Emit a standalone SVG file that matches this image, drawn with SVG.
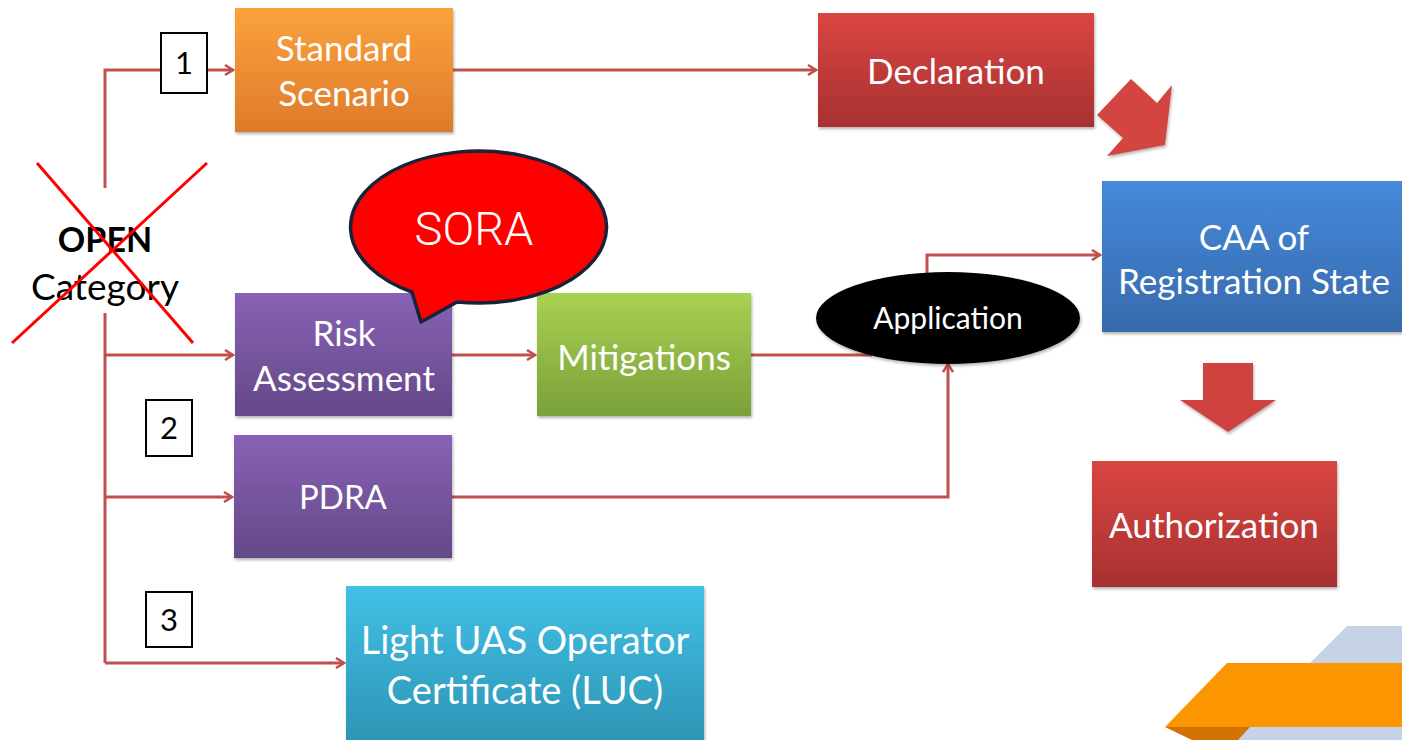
<svg xmlns="http://www.w3.org/2000/svg" width="1402" height="740" viewBox="0 0 1402 740">
<style>
.t{font-family:Lato,"Open Sans","DejaVu Sans",sans-serif;fill:#ffffff;text-anchor:middle}
.k{font-family:Lato,"Open Sans","DejaVu Sans",sans-serif;fill:#000000;text-anchor:middle}
.c{fill:none;stroke:#c0504d;stroke-width:3}
.num{fill:#ffffff;stroke:#000000;stroke-width:2}
.box{filter:url(#sh)}
</style>
<defs>
<linearGradient id="gOr" x1="0" y1="0" x2="0" y2="1"><stop offset="0" stop-color="#fba23c"/><stop offset="1" stop-color="#de7a2a"/></linearGradient>
<linearGradient id="gRd" x1="0" y1="0" x2="0" y2="1"><stop offset="0" stop-color="#da4542"/><stop offset="1" stop-color="#a73131"/></linearGradient>
<linearGradient id="gPu" x1="0" y1="0" x2="0" y2="1"><stop offset="0" stop-color="#8862b6"/><stop offset="1" stop-color="#644887"/></linearGradient>
<linearGradient id="gGr" x1="0" y1="0" x2="0" y2="1"><stop offset="0" stop-color="#a9d151"/><stop offset="1" stop-color="#7aa03a"/></linearGradient>
<linearGradient id="gBl" x1="0" y1="0" x2="0" y2="1"><stop offset="0" stop-color="#4589da"/><stop offset="1" stop-color="#376aad"/></linearGradient>
<linearGradient id="gCy" x1="0" y1="0" x2="0" y2="1"><stop offset="0" stop-color="#40c1e6"/><stop offset="1" stop-color="#2e93b3"/></linearGradient>
<filter id="sh" x="-5%" y="-5%" width="115%" height="115%"><feDropShadow dx="1" dy="2" stdDeviation="1.5" flood-color="#000" flood-opacity="0.3"/></filter>
<marker id="ah" viewBox="0 0 12 12" refX="10" refY="6" markerWidth="12" markerHeight="12" markerUnits="userSpaceOnUse" orient="auto"><path d="M2,1 L10,6 L2,11" fill="none" stroke="#c0504d" stroke-width="2.5"/></marker>
</defs>

<!-- background decoration -->
<g id="deco">
<polygon points="1347,626 1402,626 1402,740 1233,740" fill="#c6d3e6"/>
<polygon points="1227,663 1402,663 1402,727 1165,727" fill="#fb9600"/>
<polygon points="1165,727 1250,727 1238,740 1192,740" fill="#d37200"/>
</g>

<!-- connectors -->
<g id="connectors">
<path class="c" d="M105,188 V70 H161"/>
<path class="c" d="M207,70 H233" marker-end="url(#ah)"/>
<path class="c" d="M105,313 V663"/>
<path class="c" d="M105,355 H233" marker-end="url(#ah)"/>
<path class="c" d="M105,497 H232" marker-end="url(#ah)"/>
<path class="c" d="M105,663 H344" marker-end="url(#ah)"/>
<path class="c" d="M453,70 H816" marker-end="url(#ah)"/>
<path class="c" d="M452,355 H535" marker-end="url(#ah)"/>
<path class="c" d="M751,355 H872"/>
<path class="c" d="M452,497 H948 V364" marker-end="url(#ah)"/>
<path class="c" d="M927,273 V255 H1100" marker-end="url(#ah)"/>
</g>

<!-- OPEN Category -->
<g id="open">
<text class="k" x="105" y="252" font-size="34" font-weight="bold">OPEN</text>
<text class="k" x="105" y="300" font-size="37">Category</text>
<line x1="37" y1="163" x2="193" y2="343" stroke="#ff0000" stroke-width="3"/>
<line x1="207" y1="163" x2="12" y2="343" stroke="#ff0000" stroke-width="3"/>
</g>

<g id="n1"><rect class="num" x="161" y="33" width="46" height="60"/><text class="k" x="184" y="74" font-size="31">1</text></g>
<g id="n2"><rect class="num" x="146" y="400" width="46" height="56"/><text class="k" x="169" y="439" font-size="31">2</text></g>
<g id="n3"><rect class="num" x="146" y="592" width="46" height="55"/><text class="k" x="169" y="631" font-size="31">3</text></g>

<g id="standard">
<rect class="box" x="235" y="8" width="218" height="124" fill="url(#gOr)"/>
<text class="t" x="344" y="61" font-size="35">Standard</text>
<text class="t" x="344" y="106" font-size="35">Scenario</text>
</g>

<g id="declaration">
<rect class="box" x="818" y="13" width="276" height="114" fill="url(#gRd)"/>
<text class="t" x="956" y="84" font-size="35">Declaration</text>
</g>

<g id="arrow-decl">
<polygon class="box" points="1131,79 1157,103 1172,85 1165,145 1107,156 1123,138 1097,115" fill="#d24440"/>
</g>

<g id="caa">
<rect class="box" x="1102" y="181" width="302" height="151" fill="url(#gBl)"/>
<text class="t" x="1254" y="250" font-size="35">CAA of</text>
<text class="t" x="1254" y="294" font-size="35">Registration State</text>
</g>

<g id="arrow-down">
<polygon class="box" points="1203,363 1253,363 1253,400 1276,400 1228,432 1180,400 1203,400" fill="#cf4340"/>
</g>

<g id="authorization">
<rect class="box" x="1092" y="461" width="245" height="126" fill="url(#gRd)"/>
<text class="t" x="1214" y="538" font-size="35">Authorization</text>
</g>

<g id="risk">
<rect class="box" x="235" y="293" width="217" height="123" fill="url(#gPu)"/>
<text class="t" x="344" y="346" font-size="35">Risk</text>
<text class="t" x="344" y="391" font-size="35">Assessment</text>
</g>

<g id="mitigations">
<rect class="box" x="537" y="293" width="214" height="123" fill="url(#gGr)"/>
<text class="t" x="644" y="370" font-size="35">Mitigations</text>
</g>

<g id="pdra">
<rect class="box" x="234" y="435" width="218" height="123" fill="url(#gPu)"/>
<text class="t" x="343" y="509" font-size="33">PDRA</text>
</g>

<g id="luc">
<rect class="box" x="346" y="586" width="358" height="160" fill="url(#gCy)"/>
<text class="t" x="525" y="654" font-size="38">Light UAS Operator</text>
<text class="t" x="525" y="704" font-size="38">Certificate (LUC)</text>
</g>

<g id="application">
<ellipse class="box" cx="948" cy="318" rx="132" ry="46" fill="#000000"/>
<text class="t" x="948" y="329" font-size="30">Application</text>
</g>

<g id="sora">
<path d="M412,292 A128,76 0 1 1 457,302 L421,322 Z" fill="#ff0000" stroke="#17233a" stroke-width="3.5" stroke-linejoin="round"/>
<text x="474" y="245" font-family="Roboto,'Open Sans',sans-serif" font-weight="300" font-size="47" fill="#ffffff" text-anchor="middle">SORA</text>
</g>
</svg>
